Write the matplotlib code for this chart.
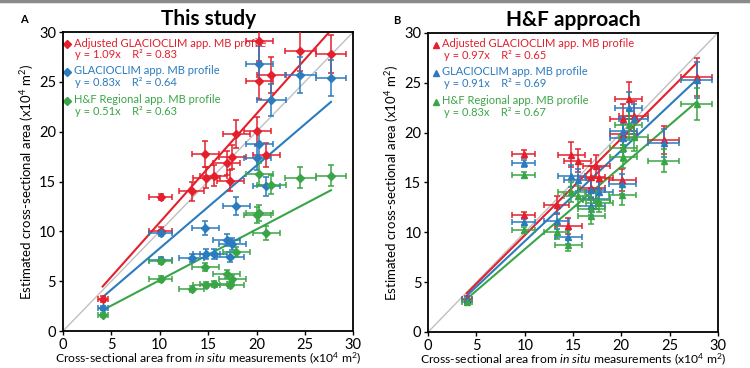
import numpy as np
import matplotlib
matplotlib.use("Agg")
import matplotlib.pyplot as plt
from matplotlib.lines import Line2D

plt.rcParams['font.family'] = ['Lato', 'DejaVu Sans']
plt.rcParams['mathtext.fontset'] = 'custom'
plt.rcParams['mathtext.rm'] = 'Lato'
plt.rcParams['mathtext.it'] = 'Lato:italic'

RED = "#e3202c"
BLUE = "#2b7bbf"
GREEN = "#3aa547"

# ---- panel A : This study ----
xA = [4.1, 10.1, 10.1, 13.3, 14.7, 14.8, 15.6, 16.9, 17.3, 17.5, 17.9, 20.1, 20.3, 20.3, 21.0, 21.5, 24.5, 27.7]
xerrA = [0.5, 1.2, 1.2, 1.3, 1.4, 1.4, 1.4, 1.4, 1.4, 1.4, 1.4, 1.4, 1.4, 1.4, 1.4, 1.5, 1.6, 1.6]
redA = [3.2, 13.4, 10.0, 14.0, 17.8, 15.4, 15.6, 16.9, 15.1, 17.5, 19.8, 20.1, 25.1, 29.1, 17.7, 25.7, 28.1, 27.8]
blueA = [2.3, 9.8, 7.1, 7.3, 10.3, 7.7, 7.7, 9.1, 7.4, 8.7, 12.5, 17.4, 18.8, 26.8, 14.5, 23.2, 25.7, 25.4]
greenA = [1.6, 7.0, 5.2, 4.2, 6.4, 4.6, 4.7, 5.7, 4.6, 5.2, 7.9, 11.6, 11.8, 15.8, 9.8, 14.7, 15.4, 15.6]
redA_err = [0.3, 0.3, 0.4, 1.0, 1.3, 1.1, 1.1, 1.2, 1.1, 1.2, 1.4, 1.4, 1.8, 2.0, 1.2, 1.8, 2.0, 1.9]
blueA_err = [0.2, 0.3, 0.3, 0.4, 0.7, 0.5, 0.5, 0.6, 0.5, 0.6, 0.9, 1.2, 1.3, 1.8, 1.0, 1.6, 1.8, 1.8]
greenA_err = [0.2, 0.3, 0.3, 0.3, 0.4, 0.3, 0.3, 0.4, 0.3, 0.4, 0.5, 0.8, 0.8, 1.1, 0.7, 1.0, 1.1, 1.1]
slopesA = [1.09, 0.83, 0.51]
r2A = [0.83, 0.64, 0.63]

# ---- panel B : H&F approach ----
xB = [4.0, 9.9, 9.9, 13.3, 14.5, 14.8, 15.5, 16.9, 16.9, 17.4, 17.7, 20.1, 20.2, 20.2, 20.8, 21.3, 24.4, 27.8]
xerrB = [0.5, 1.2, 1.2, 1.3, 1.4, 1.4, 1.4, 1.4, 1.4, 1.4, 1.4, 1.4, 1.4, 1.4, 1.4, 1.5, 1.6, 1.6]
redB = [3.3, 17.9, 11.7, 12.7, 10.6, 17.8, 17.2, 15.5, 14.4, 16.6, 15.4, 15.2, 21.4, 19.9, 23.4, 21.7, 19.3, 25.6]
blueB = [3.2, 16.9, 11.0, 11.1, 9.5, 15.6, 15.2, 12.6, 14.2, 13.3, 14.0, 14.8, 20.2, 19.5, 22.5, 21.4, 19.0, 25.3]
greenB = [3.0, 15.7, 10.2, 10.0, 8.7, 14.0, 13.6, 11.6, 12.3, 13.2, 12.9, 13.7, 18.5, 17.6, 20.8, 19.6, 17.2, 22.9]
redB_err = [0.3, 0.4, 0.3, 0.9, 0.8, 1.3, 1.2, 1.1, 1.0, 1.2, 1.1, 1.1, 1.5, 1.4, 1.7, 1.5, 1.4, 1.9]
blueB_err = [0.3, 0.4, 0.3, 0.8, 0.7, 1.1, 1.1, 0.9, 1.0, 1.0, 1.0, 1.0, 1.4, 1.4, 1.6, 1.5, 1.4, 1.8]
greenB_err = [0.3, 0.3, 0.3, 0.7, 0.6, 1.0, 1.0, 0.8, 0.9, 0.9, 0.9, 1.0, 1.3, 1.2, 1.5, 1.4, 1.2, 1.6]
slopesB = [0.97, 0.91, 0.83]
r2B = [0.65, 0.69, 0.67]

names = ["Adjusted GLACIOCLIM app. MB profile", "GLACIOCLIM app. MB profile",
         "H&F Regional app. MB profile"]
colors = [RED, BLUE, GREEN]


def panel(ax, x, xerr, ys, yerrs, slopes, r2, marker, ms, title, letter, lx, tx, mx):
    ax.plot([0, 30], [0, 30], color="#c0c0c0", lw=1, zorder=1)
    for y, ye, c, s in zip(ys, yerrs, colors, slopes):
        ax.errorbar(x, y, xerr=xerr, yerr=ye, fmt=marker, color=c, ms=ms,
                    elinewidth=1.1, capsize=2.2, capthick=1.1, zorder=3)
        xl = np.array([min(x), max(x)])
        ax.plot(xl, s * xl, color=c, lw=1.5, zorder=2)
    ax.set_xlim(0, 30)
    ax.set_ylim(0, 30)
    ax.set_xticks(range(0, 31, 5))
    ax.set_yticks(range(0, 31, 5))
    ax.tick_params(labelsize=10.5, length=3, width=1, direction="out", pad=2)
    for sp in ax.spines.values():
        sp.set_linewidth(1.3)
    ax.set_xlabel("Cross-sectional area from $\\mathit{in\\ situ}$ measurements (x10$^4$ m$^2$)",
                  fontsize=8.7, labelpad=-1)
    ax.set_ylabel("Estimated cross-sectional area (x10$^4$ m$^2$)", fontsize=9.5, labelpad=2)
    ax.set_title(title, fontsize=15, fontweight="bold", pad=5)
    ax.text(lx, 1.03, letter, transform=ax.transAxes, fontsize=8, fontweight="bold")
    yy = [0.963, 0.870, 0.773]
    for k in range(3):
        ax.plot([mx], [yy[k] - 0.003], marker=marker, color=colors[k], ms=4.5,
                transform=ax.transAxes, clip_on=False)
        ax.text(tx, yy[k], names[k], color=colors[k], fontsize=8,
                transform=ax.transAxes, va="center")
        ax.text(tx + 0.005, yy[k] - 0.038, "y = %.2fx    R² = %.2f" % (slopes[k], r2[k]),
                color=colors[k], fontsize=8, transform=ax.transAxes, va="center")


fig = plt.figure(figsize=(7.5, 3.68), dpi=100)
axA = fig.add_axes([0.084, 0.1005, 0.387, 0.8125])
axB = fig.add_axes([0.571, 0.098, 0.386, 0.8125])

panel(axA, xA, xerrA, [redA, blueA, greenA], [redA_err, blueA_err, greenA_err],
      slopesA, r2A, "D", 4.5, "This study", "A", -0.148, 0.038, 0.015)
panel(axB, xB, xerrB, [redB, blueB, greenB], [redB_err, blueB_err, greenB_err],
      slopesB, r2B, "^", 5, "H&F approach", "B", -0.122, 0.048, 0.028)

fig.add_artist(Line2D([0, 1], [0.996, 0.996], color="#8a8a8a", lw=2.5,
                      transform=fig.transFigure))

fig.savefig("out.png", dpi=100)
